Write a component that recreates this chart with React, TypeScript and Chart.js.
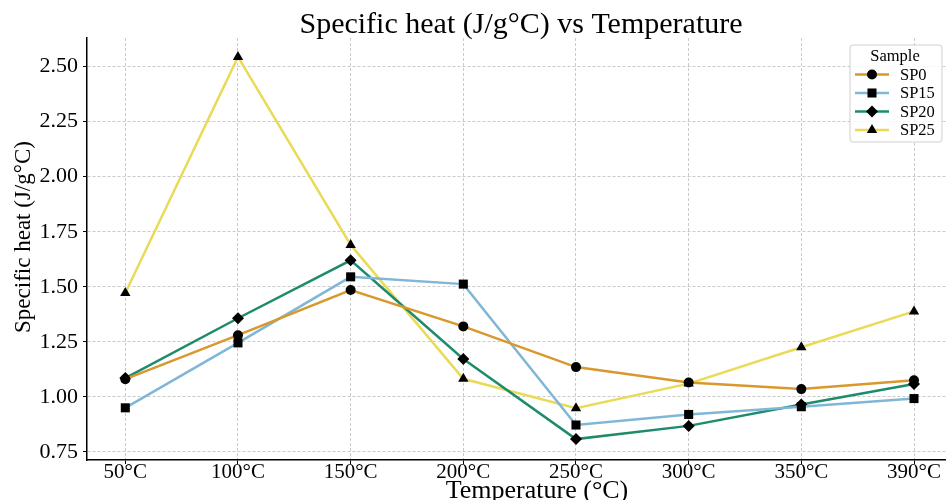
import React, { useEffect, useRef } from 'react';
import { Chart, registerables } from 'chart.js';

Chart.register(...registerables);

const xLabels = ['50°C', '100°C', '150°C', '200°C', '250°C', '300°C', '350°C', '390°C'];
const sp0 = [1.08, 1.28, 1.485, 1.32, 1.135, 1.065, 1.035, 1.075];
const sp15 = [0.95, 1.245, 1.545, 1.512, 0.872, 0.92, 0.955, 0.992];
const sp20 = [1.085, 1.357, 1.62, 1.172, 0.808, 0.868, 0.965, 1.058];
const sp25 = [1.472, 2.544, 1.69, 1.082, 0.948, 1.06, 1.225, 1.388];
const yTicks = [0.75, 1.0, 1.25, 1.5, 1.75, 2.0, 2.25, 2.5];

const seriesNames = ['SP0', 'SP15', 'SP20', 'SP25'];
const seriesValues = [sp0, sp15, sp20, sp25];
const seriesColors = ['#D9982C', '#80B6D6', '#1E8C6C', '#E9DB58'];
const seriesMarkers = ['circle', 'rect', 'rectRot', 'triangle'];
const markerRadius = [5, 6.4, 6, 6];

const TITLE = 'Specific heat (J/g°C) vs Temperature';
const X_TITLE = 'Temperature (°C)';
const Y_TITLE = 'Specific heat (J/g°C)';
const LEGEND_TITLE = 'Sample';
const SERIF = '"Liberation Serif", "Times New Roman", serif';
const CANVAS_W = 946;
const CANVAS_H = 500;

function drawMarker(ctx: CanvasRenderingContext2D, style: string, x: number, y: number, r: number) {
  ctx.beginPath();
  if (style === 'circle') {
    ctx.arc(x, y, r, 0, Math.PI * 2);
  } else if (style === 'rect') {
    const s = Math.SQRT1_2 * r;
    ctx.rect(x - s, y - s, 2 * s, 2 * s);
  } else if (style === 'rectRot') {
    ctx.moveTo(x - r, y);
    ctx.lineTo(x, y - r);
    ctx.lineTo(x + r, y);
    ctx.lineTo(x, y + r);
    ctx.closePath();
  } else {
    ctx.moveTo(x, y - r);
    ctx.lineTo(x + r * Math.sin((2 * Math.PI) / 3), y + r / 2);
    ctx.lineTo(x - r * Math.sin((2 * Math.PI) / 3), y + r / 2);
    ctx.closePath();
  }
  ctx.fillStyle = '#000';
  ctx.fill();
}

// Let the plot area run to the right edge of the canvas, as in the reference.
const stretchPlugin = {
  id: 'stretchRight',
  afterLayout(chart: any) {
    const area = chart.chartArea;
    area.right = CANVAS_W;
    area.width = area.right - area.left;
    const xs = chart.scales.x;
    xs.right = CANVAS_W;
    xs.width = xs.right - xs.left;
    xs.configure();
    const ys = chart.scales.y;
    ys.configure();
  },
};

const textPlugin = {
  id: 'customTexts',
  afterDraw(chart: any) {
    const ctx = chart.ctx as CanvasRenderingContext2D;
    ctx.save();
    ctx.fillStyle = '#000';
    ctx.textAlign = 'center';
    ctx.textBaseline = 'alphabetic';
    ctx.font = `30px ${SERIF}`;
    ctx.fillText(TITLE, 521, 33);

    ctx.font = `26px ${SERIF}`;
    ctx.fillText(X_TITLE, 537, 498);

    ctx.translate(30, 237);
    ctx.rotate(-Math.PI / 2);
    ctx.font = `23px ${SERIF}`;
    ctx.fillText(Y_TITLE, 0, 0);
    ctx.restore();
  },
};

const legendPlugin = {
  id: 'customLegend',
  afterDraw(chart: any) {
    const ctx = chart.ctx as CanvasRenderingContext2D;
    const bx = 850, by = 45, bw = 92, bh = 97;
    ctx.save();
    ctx.beginPath();
    const rr = 3;
    ctx.moveTo(bx + rr, by);
    ctx.lineTo(bx + bw - rr, by);
    ctx.quadraticCurveTo(bx + bw, by, bx + bw, by + rr);
    ctx.lineTo(bx + bw, by + bh - rr);
    ctx.quadraticCurveTo(bx + bw, by + bh, bx + bw - rr, by + bh);
    ctx.lineTo(bx + rr, by + bh);
    ctx.quadraticCurveTo(bx, by + bh, bx, by + bh - rr);
    ctx.lineTo(bx, by + rr);
    ctx.quadraticCurveTo(bx, by, bx + rr, by);
    ctx.closePath();
    ctx.fillStyle = 'rgba(255,255,255,0.85)';
    ctx.fill();
    ctx.strokeStyle = '#cfcfcf';
    ctx.lineWidth = 1;
    ctx.stroke();

    ctx.font = `16.5px ${SERIF}`;
    ctx.fillStyle = '#000';
    ctx.textAlign = 'center';
    ctx.textBaseline = 'middle';
    ctx.fillText(LEGEND_TITLE, 895, 57);

    const rowsY = [74.5, 93, 111.5, 130];
    chart.data.datasets.forEach((ds: any, i: number) => {
      const y = rowsY[i];
      ctx.beginPath();
      ctx.moveTo(855, y);
      ctx.lineTo(889, y);
      ctx.strokeStyle = ds.borderColor;
      ctx.lineWidth = 2.5;
      ctx.stroke();
      drawMarker(ctx, ds.pointStyle, 872, y, ds.pointRadius);
      ctx.fillStyle = '#000';
      ctx.textAlign = 'left';
      ctx.textBaseline = 'middle';
      ctx.font = `16.5px ${SERIF}`;
      ctx.fillText(ds.label, 900, y + 1);
    });
    ctx.restore();
  },
};

export default function App() {
  const canvasRef = useRef<HTMLCanvasElement | null>(null);

  useEffect(() => {
    document.body.style.margin = '0';
    const canvas = canvasRef.current;
    if (!canvas) return;

    const datasets = seriesNames.map((name, s) => ({
      label: name,
      data: seriesValues[s].map((v, i) => ({ x: i, y: v })),
      borderColor: seriesColors[s],
      backgroundColor: seriesColors[s],
      borderWidth: 2.5,
      tension: 0,
      pointStyle: seriesMarkers[s],
      pointRadius: markerRadius[s],
      pointHoverRadius: markerRadius[s],
      pointBackgroundColor: '#000',
      pointBorderColor: '#000',
      pointBorderWidth: 0,
    }));

    const gridCommon = {
      color: '#c4c4c4',
      lineWidth: 0.9,
      drawTicks: true,
      tickLength: 4,
      tickColor: '#000',
      tickWidth: 1,
      tickBorderDash: [],
    };

    const chart = new Chart(canvas, {
      type: 'line',
      data: { datasets },
      plugins: [stretchPlugin, textPlugin, legendPlugin],
      options: {
        responsive: false,
        animation: false,
        layout: { padding: { top: 38, right: 0, left: 0, bottom: 0 } },
        plugins: {
          legend: { display: false },
          title: { display: false },
          tooltip: { enabled: false },
        },
        scales: {
          x: {
            type: 'linear',
            min: -0.34,
            max: 7.284,
            afterBuildTicks: (scale: any) => {
              scale.ticks = xLabels.map((_, i) => ({ value: i }));
            },
            afterFit: (scale: any) => {
              scale.height = 40;
              scale.paddingLeft = 0;
              scale.paddingRight = 0;
            },
            ticks: {
              autoSkip: false,
              maxRotation: 0,
              minRotation: 0,
              padding: -4,
              color: '#000',
              font: { family: SERIF, size: 21 },
              callback: (v: any) => xLabels[Math.round(Number(v))] ?? '',
            },
            grid: gridCommon,
            border: { display: true, color: '#000', width: 1.5, dash: [3, 2] },
            title: { display: false },
          },
          y: {
            type: 'linear',
            min: 0.713,
            max: 2.63,
            afterBuildTicks: (scale: any) => {
              scale.ticks = yTicks.map((v) => ({ value: v }));
            },
            afterFit: (scale: any) => {
              scale.width = 87;
            },
            ticks: {
              padding: 5,
              color: '#000',
              font: { family: SERIF, size: 22 },
              callback: (v: any) => Number(v).toFixed(2),
            },
            grid: gridCommon,
            border: { display: true, color: '#000', width: 1.5, dash: [3, 2] },
            title: { display: false },
          },
        },
      },
    } as any);

    return () => chart.destroy();
  }, []);

  return (
    <div style={{ width: CANVAS_W, height: CANVAS_H }}>
      <canvas ref={canvasRef} width={CANVAS_W} height={CANVAS_H} style={{ display: 'block' }} />
    </div>
  );
}
